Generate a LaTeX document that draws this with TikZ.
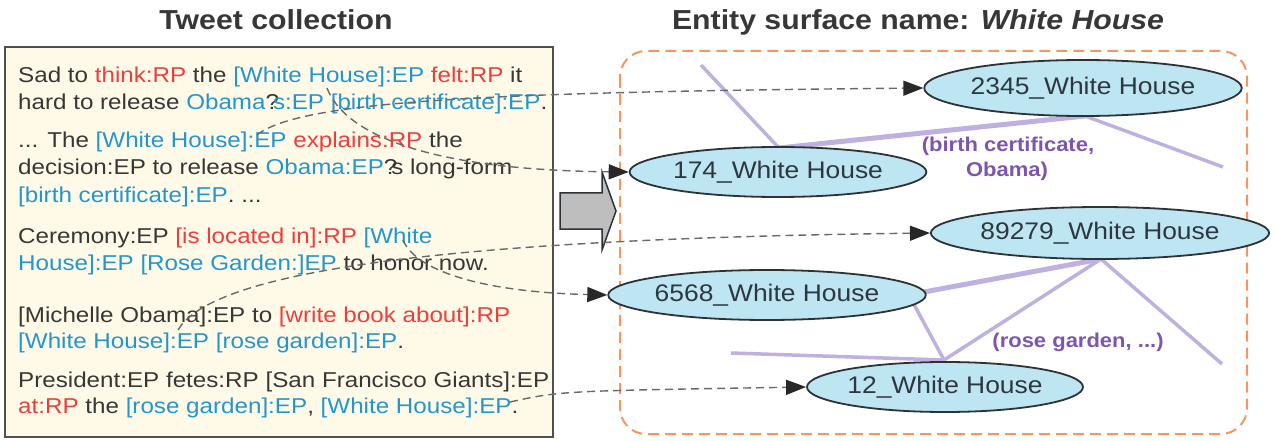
\documentclass[tikz,border=0pt]{standalone}
\usepackage{fontspec}
\setmainfont{Liberation Sans}[FakeStretch=1.1]
\newfontfamily\tweetfont{Liberation Sans}[FakeStretch=1.125]
\usetikzlibrary{shapes.geometric,arrows.meta}
\definecolor{txt}{RGB}{55,55,55}
\definecolor{rpred}{RGB}{236,62,60}
\definecolor{epblue}{RGB}{35,150,205}
\definecolor{cream}{RGB}{255,250,232}
\definecolor{boxgray}{RGB}{80,80,80}
\definecolor{orng}{RGB}{245,150,95}
\definecolor{entf}{RGB}{190,230,242}
\definecolor{entb}{RGB}{45,50,55}
\definecolor{entt}{RGB}{45,55,65}
\definecolor{lav}{RGB}{190,176,224}
\definecolor{purp}{RGB}{125,85,175}
\definecolor{conng}{RGB}{105,105,105}
\definecolor{tipc}{RGB}{40,40,40}
\definecolor{arrg}{RGB}{190,190,190}
\newcommand\RP[1]{\textcolor{rpred}{#1}}
\newcommand\EP[1]{\textcolor{epblue}{#1}}
\newcommand\qk{\kern-0.28em}
\begin{document}
\begin{tikzpicture}[x=1pt,y=-1pt,
  tw/.style={anchor=base west,inner sep=0pt,font=\tweetfont\fontsize{21.5}{25}\selectfont,text=txt},
  ttl/.style={anchor=base,inner sep=0pt,font=\fontsize{27.5}{32}\selectfont\bfseries,text=txt},
  ent/.style={ellipse,draw=entb,line width=1.8pt,fill=entf,inner sep=0pt,
    font=\fontsize{24}{28}\selectfont,text=entt},
  conn/.style={draw=conng,dash pattern=on 8pt off 5pt,line width=1.4pt,
    -{Triangle[length=20pt,width=15pt,color=tipc]}},
  rel/.style={draw=lav,line width=3.5pt},
  relthick/.style={draw=lav,line width=5pt},
  plab/.style={anchor=base,inner sep=0pt,font=\fontsize{20}{24}\selectfont\bfseries,text=purp}
]
\useasboundingbox (0,0) rectangle (1275,441);

% titles
\node[ttl] (t1) at (276,30) {Tweet collection};
\node[ttl] (t2) at (918,30) {Entity surface name: \textit{White House}};

% left box
\draw[fill=cream,draw=boxgray,line width=2pt] (5,47) rectangle (553,437);

% tweet lines
\node[tw] (l1) at (18,83) {Sad to \RP{think:RP} the \EP{[White House]:EP} \RP{felt:RP} it};
\node[tw] (l2) at (18,110) {hard to release \EP{Obama}?\qk\EP{s:EP [birth certificate]:EP}.};
\node[tw] (l3) at (18,148) {... The \EP{[White House]:EP} \RP{explains:RP} the};
\node[tw] (l4) at (18,175) {decision:EP to release \EP{Obama:EP}?\qk s long-form};
\node[tw] (l5) at (18,203) {\EP{[birth certificate]:EP}. ...};
\node[tw] (l6) at (18,243) {Ceremony:EP \RP{[is located in]:RP} \EP{[White}};
\node[tw] (l7) at (18,270) {\EP{House]:EP [Rose Garden:]EP} to honor now.};
\node[tw] (l8) at (18,322) {[Michelle Obama]:EP to \RP{[write book about]:RP}};
\node[tw] (l9) at (18,348) {\EP{[White House]:EP [rose garden]:EP}.};
\node[tw] (l10) at (18,387) {President:EP fetes:RP [San Francisco Giants]:EP};
\node[tw] (l11) at (18,413) {\RP{at:RP} the \EP{[rose garden]:EP}, \EP{[White House]:EP}.};

% block arrow
\draw[fill=arrg,draw=entb,line width=1.5pt,line join=miter]
  (560,193) -- (602,193) -- (602,172) -- (616,211) -- (602,250) -- (602,229) -- (560,229) -- cycle;

% entity box
\draw[draw=orng,line width=2pt,dash pattern=on 11pt off 6pt,rounded corners=26pt]
  (620,51) rectangle (1247,434);

% relation lines (behind ellipses)
\coordinate (f1) at (701,65);
\coordinate (f2) at (1223,167);
\coordinate (f3) at (731,353);
\coordinate (f4) at (1222,364);
\coordinate (e174n) at (779,148);
\coordinate (e2345s) at (1085,116);
\coordinate (e89s) at (1101,259);
\coordinate (e6568e) at (908,295);
\coordinate (e6568b) at (911,299);
\coordinate (e12n) at (944,360);
\draw[rel] (f1) -- (e174n);
\draw[relthick] (e174n) -- (e2345s);
\draw[rel] (e2345s) -- (f2);
\draw[relthick] (e6568e) -- (e89s);
\draw[rel] (e6568b) -- (e12n);
\draw[rel] (e12n) -- (e89s);
\draw[rel] (f3) -- (e12n);
\draw[rel] (e89s) -- (f4);

% entity ellipses
\node[ent,minimum width=280pt,minimum height=56pt] (n2345) at (1083,88) {2345\_White House};
\node[ent,minimum width=281pt,minimum height=50pt] (n174) at (778,172) {174\_White House};
\node[ent,minimum width=286pt,minimum height=52pt] (n89279) at (1100,233) {89279\_White House};
\node[ent,minimum width=281pt,minimum height=50pt] (n6568) at (767,295) {6568\_White House};
\node[ent,minimum width=254pt,minimum height=50pt] (n12) at (945,387) {12\_White House};

% relation labels
\node[plab] (r1a) at (1008,152) {(birth certificate,};
\node[plab] (r1b) at (1007,176) {Obama)};
\node[plab] (r2) at (1078,347) {(rose garden, ...)};

% connectors
\coordinate (s1) at (327,88);
\coordinate (s2) at (257,135);
\coordinate (s3) at (178,330);
\coordinate (s4) at (403,240);
\coordinate (s5) at (510,402);
\draw[conn] (s1) .. controls (345,135) and (430,170) .. (n174.west);
\draw[conn] (s2) .. controls (300,100) and (500,92) .. (n2345.west);
\draw[conn] (s3) .. controls (205,285) and (350,240) .. (n89279.west);
\draw[conn] (s4) .. controls (415,270) and (480,292) .. (n6568.west);
\draw[conn] (s5) .. controls (560,391) .. (n12.west);
\end{tikzpicture}
\end{document}
